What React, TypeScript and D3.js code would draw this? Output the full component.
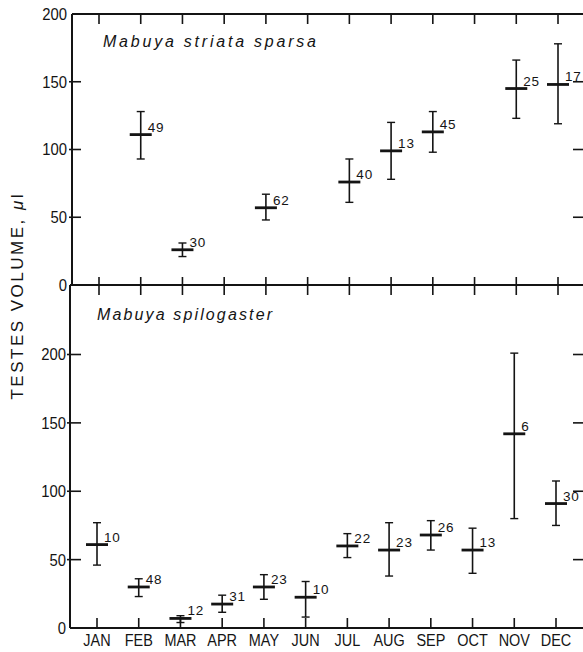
import * as d3 from "d3";

// month categories
const months = ["JAN", "FEB", "MAR", "APR", "MAY", "JUN", "JUL", "AUG", "SEP", "OCT", "NOV", "DEC"];
const yTicks = [0, 50, 100, 150, 200];

// Mabuya striata sparsa (top panel)
const striataMonths = ["FEB", "MAR", "MAY", "JUL", "AUG", "SEP", "NOV", "DEC"];
const striataMean = [111, 26, 57, 76, 99, 113, 145, 148];
const striataLow = [93, 21, 48, 61, 78, 98, 123, 119];
const striataHigh = [128, 31, 67, 93, 120, 128, 166, 178];
const striataN = ["49", "30", "62", "40", "13", "45", "25", "17"];

// Mabuya spilogaster (bottom panel)
const spiloMonths = months;
const spiloMean = [61, 30, 7, 17.5, 30, 22.5, 60, 57, 68, 57, 142, 91];
const spiloLow = [46, 23, 4, 11.5, 21, 8, 51.5, 38, 57, 40, 80, 75];
const spiloHigh = [77, 36, 9, 24, 39, 34, 69, 77, 78.5, 73, 201, 107.5];
const spiloN = ["10", "48", "12", "31", "23", "10", "22", "23", "26", "13", "6", "30"];

const W = 583;
const H = 652;
const RIGHT = 583;
const ink = "#141414";
const font = "'Liberation Sans', Arial, sans-serif";

const ErrorBars = (props: {
  cats: string[];
  mean: number[];
  low: number[];
  high: number[];
  n: string[];
  x: d3.ScalePoint<string>;
  y: d3.ScaleLinear<number, number>;
}) => {
  const { cats, mean, low, high, n, x, y } = props;
  return (
    <g>
      {cats.map((c, i) => {
        const cx = x(c) as number;
        const ym = y(mean[i]);
        const yl = y(low[i]);
        const yh = y(high[i]);
        return (
          <g key={c}>
            <line x1={cx} x2={cx} y1={yh} y2={yl} stroke={ink} strokeWidth={1.6} />
            <line x1={cx - 4} x2={cx + 4} y1={yh} y2={yh} stroke={ink} strokeWidth={1.4} />
            <line x1={cx - 4} x2={cx + 4} y1={yl} y2={yl} stroke={ink} strokeWidth={1.4} />
            <line x1={cx - 11} x2={cx + 11} y1={ym} y2={ym} stroke={ink} strokeWidth={2.8} />
            <text x={cx + 7} y={ym - 3} fontSize={13.5} letterSpacing={0.8} fill={ink}>
              {n[i]}
            </text>
          </g>
        );
      })}
    </g>
  );
};

export default function App() {
  const xTop = d3.scalePoint<string>().domain(months).range([99, 558]);
  const xBot = d3.scalePoint<string>().domain(months).range([97, 556]);
  const yTop = d3.scaleLinear().domain([0, 200]).range([285, 14]);
  const yBot = d3.scaleLinear().domain([0, 200]).range([628, 354.5]);

  const leftTop = 72;
  const leftBot = 70;

  return (
    <svg
      width={W}
      height={H}
      style={{ position: "absolute", left: 0, top: 0, background: "white" }}
      fontFamily={font}
    >
      <rect width={W} height={H} fill="white" />

      {/* frame */}
      <line x1={leftTop} x2={RIGHT} y1={yTop(200)} y2={yTop(200)} stroke={ink} strokeWidth={2} />
      <line x1={leftTop} x2={leftTop} y1={yTop(200)} y2={yTop(0)} stroke={ink} strokeWidth={2} />
      <line x1={leftBot} x2={RIGHT} y1={yTop(0)} y2={yTop(0)} stroke={ink} strokeWidth={2} />
      <line x1={leftBot} x2={leftBot} y1={yTop(0)} y2={yBot(0)} stroke={ink} strokeWidth={2} />
      <line x1={leftBot} x2={RIGHT} y1={yBot(0)} y2={yBot(0)} stroke={ink} strokeWidth={2} />

      {/* month ticks */}
      {months.map((m) => (
        <g key={"t" + m}>
          <line x1={xTop(m)} x2={xTop(m)} y1={yTop(200)} y2={yTop(200) + 10} stroke={ink} strokeWidth={1.6} />
          <line x1={xTop(m)} x2={xTop(m)} y1={yTop(0) - 8} y2={yTop(0) + 10} stroke={ink} strokeWidth={1.6} />
          <line x1={xBot(m)} x2={xBot(m)} y1={yBot(0) - 10} y2={yBot(0)} stroke={ink} strokeWidth={1.6} />
          <text
            transform={`translate(${xBot(m)},646) scale(0.85,1)`}
            textAnchor="middle"
            fontSize={17}
            fill={ink}
          >
            {m}
          </text>
        </g>
      ))}

      {/* y ticks top panel */}
      {yTicks.map((t) => (
        <g key={"yt" + t}>
          {t > 0 && t < 200 && (
            <>
              <line x1={leftTop - 3} x2={leftTop + 9} y1={yTop(t)} y2={yTop(t)} stroke={ink} strokeWidth={1.6} />
              <line x1={RIGHT - 10} x2={RIGHT} y1={yTop(t)} y2={yTop(t)} stroke={ink} strokeWidth={1.6} />
            </>
          )}
          <text
            transform={`translate(67,${yTop(t)}) scale(0.9,1)`}
            dy="0.36em"
            textAnchor="end"
            fontSize={16.5}
            fill={ink}
          >
            {t}
          </text>
        </g>
      ))}

      {/* y ticks bottom panel */}
      {yTicks.map((t) => (
        <g key={"yb" + t}>
          {t > 0 && (
            <>
              <line x1={leftBot - 3} x2={leftBot + 11} y1={yBot(t)} y2={yBot(t)} stroke={ink} strokeWidth={1.6} />
              <line x1={RIGHT - 10} x2={RIGHT} y1={yBot(t)} y2={yBot(t)} stroke={ink} strokeWidth={1.6} />
            </>
          )}
          <text
            transform={`translate(66,${yBot(t)}) scale(0.9,1)`}
            dy="0.36em"
            textAnchor="end"
            fontSize={16.5}
            fill={ink}
          >
            {t}
          </text>
        </g>
      ))}

      {/* panel titles */}
      <text x={103} y={47} fontSize={16} fontStyle="italic" textLength={213} lengthAdjust="spacing" fill={ink}>
        Mabuya striata sparsa
      </text>
      <text x={97} y={320} fontSize={16} fontStyle="italic" textLength={175} lengthAdjust="spacing" fill={ink}>
        Mabuya spilogaster
      </text>

      {/* y axis label */}
      <text
        transform="translate(23,297) rotate(-90)"
        textAnchor="middle"
        fontSize={17}
        textLength={205}
        lengthAdjust="spacing"
        fill={ink}
      >
        TESTES VOLUME, <tspan fontStyle="italic">μ</tspan>l
      </text>

      <ErrorBars
        cats={striataMonths}
        mean={striataMean}
        low={striataLow}
        high={striataHigh}
        n={striataN}
        x={xTop}
        y={yTop}
      />
      <ErrorBars
        cats={spiloMonths}
        mean={spiloMean}
        low={spiloLow}
        high={spiloHigh}
        n={spiloN}
        x={xBot}
        y={yBot}
      />
    </svg>
  );
}
